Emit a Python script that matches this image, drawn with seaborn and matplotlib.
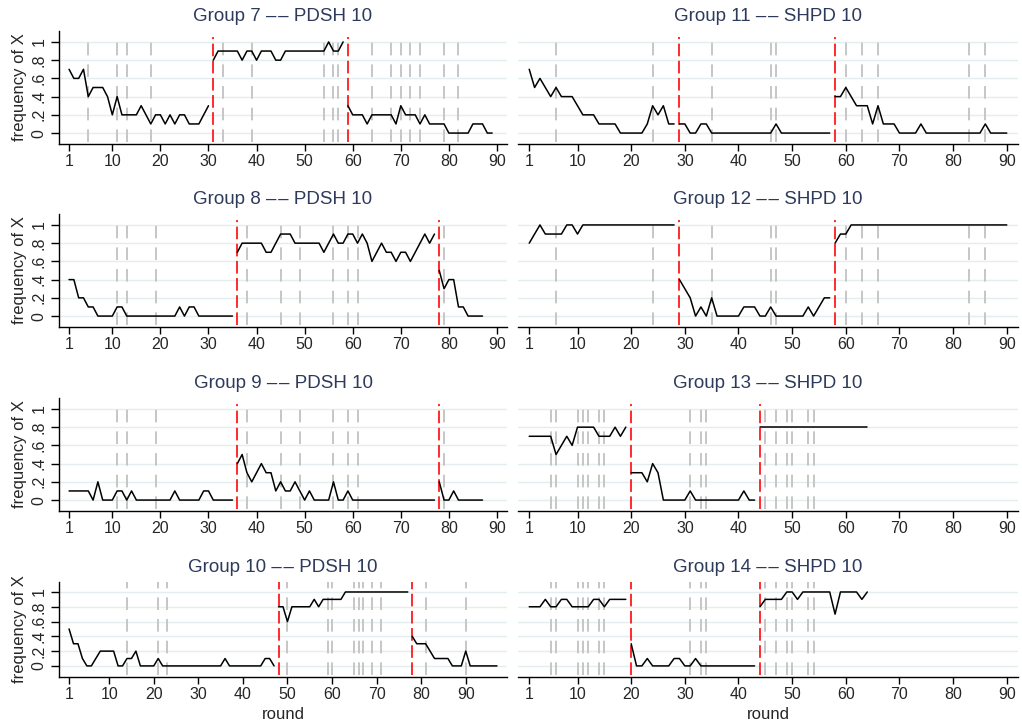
import pandas as pd
import matplotlib
matplotlib.use("Agg")
import matplotlib.pyplot as plt
import seaborn as sns

# frequency of X by round, one list per group (phases split at the switch rounds)
g7 = [.7, .6, .6, .7, .4, .5, .5, .5, .4, .2, .4, .2, .2, .2, .2, .3, .2, .1, .2, .2,
      .1, .2, .1, .2, .2, .1, .1, .1, .2, .3,
      .8, .9, .9, .9, .9, .9, .8, .9, .9, .8, .9, .9, .9, .8, .8, .9, .9, .9, .9, .9,
      .9, .9, .9, .9, 1, .9, .9, 1,
      .3, .2, .2, .2, .1, .2, .2, .2, .2, .2, .1, .3, .2, .2, .2, .1, .2, .1, .1, .1,
      .1, 0, 0, 0, 0, 0, .1, .1, .1, 0, 0]
g8 = [.4, .4, .2, .2, .1, .1, 0, 0, 0, 0, .1, .1, 0, 0, 0, 0, 0, 0, 0, 0,
      0, 0, 0, .1, 0, .1, .1, 0, 0, 0, 0, 0, 0, 0, 0,
      .7, .8, .8, .8, .8, .8, .7, .7, .8, .9, .9, .9, .8, .8, .8, .8, .8, .8, .7, .8,
      .9, .8, .8, .9, .9, .8, .9, .8, .6, .7, .8, .7, .7, .6, .7, .7, .6, .7, .8, .9,
      .8, .9,
      .5, .3, .4, .4, .1, .1, 0, 0, 0, 0]
g9 = [.1, .1, .1, .1, .1, 0, .2, 0, 0, 0, .1, .1, 0, .1, 0, 0, 0, 0, 0, 0,
      0, 0, .1, 0, 0, 0, 0, 0, .1, .1, 0, 0, 0, 0, 0,
      .4, .5, .3, .2, .3, .4, .3, .3, .1, .2, .1, .1, .2, .1, 0, .1, 0, 0, 0, 0,
      .2, 0, 0, .1, 0, 0, 0, 0, 0, 0, 0, 0, 0, 0, 0, 0, 0, 0, 0, 0, 0, 0,
      .2, 0, 0, .1, 0, 0, 0, 0, 0, 0]
g10 = [.5, .3, .3, .1, 0, 0, .1, .2, .2, .2, .2, 0, 0, .1, .1, .2, 0, 0, 0, 0,
       .1, 0, 0, 0, 0, 0, 0, 0, 0, 0, 0, 0, 0, 0, 0, .1, 0, 0, 0, 0,
       0, 0, 0, 0, .1, .1, 0,
       .8, .8, .6, .8, .8, .8, .8, .8, .9, .8, .9, .9, .9, .9, .9, 1, 1, 1, 1, 1,
       1, 1, 1, 1, 1, 1, 1, 1, 1, 1,
       .4, .3, .3, .3, .2, .1, .1, .1, .1, 0, 0, 0, .2, 0, 0, 0, 0, 0, 0, 0]
g11 = [.7, .5, .6, .5, .4, .5, .4, .4, .4, .3, .2, .2, .2, .1, .1, .1, .1, 0, 0, 0,
       0, 0, .1, .3, .2, .3, .1, .1,
       .1, .1, 0, 0, .1, .1, 0, 0, 0, 0, 0, 0, 0, 0, 0, 0, 0, 0, .1, 0,
       0, 0, 0, 0, 0, 0, 0, 0, 0,
       .4, .4, .5, .4, .3, .3, .3, .1, .3, .1, .1, .1, 0, 0, 0, 0, .1, 0, 0, 0,
       0, 0, 0, 0, 0, 0, 0, 0, .1, 0, 0, 0, 0]
g12 = [.8, .9, 1, .9, .9, .9, .9, 1, 1, .9, 1, 1, 1, 1, 1, 1, 1, 1, 1, 1,
       1, 1, 1, 1, 1, 1, 1, 1,
       .4, .3, .2, 0, .1, 0, .2, 0, 0, 0, 0, 0, .1, .1, .1, 0, 0, .1, 0, 0,
       0, 0, 0, 0, .1, 0, .1, .2, .2,
       .8, .9, .9, 1, 1, 1, 1, 1, 1, 1, 1, 1, 1, 1, 1, 1, 1, 1, 1, 1,
       1, 1, 1, 1, 1, 1, 1, 1, 1, 1, 1, 1, 1]
g13 = [.7, .7, .7, .7, .7, .5, .6, .7, .6, .8, .8, .8, .8, .7, .7, .7, .8, .7, .8,
       .3, .3, .3, .2, .4, .3, 0, 0, 0, 0, 0, .1, 0, 0, 0, 0, 0, 0, 0, 0,
       0, .1, 0, 0,
       .8, .8, .8, .8, .8, .8, .8, .8, .8, .8, .8, .8, .8, .8, .8, .8, .8, .8, .8, .8, .8]
g14 = [.8, .8, .8, .9, .8, .8, .9, .9, .8, .8, .8, .8, .9, .9, .8, .9, .9, .9, .9,
       .3, 0, 0, .1, 0, 0, 0, 0, .1, .1, 0, 0, .1, 0, 0, 0, 0, 0, 0, 0,
       0, 0, 0, 0,
       .8, .9, .9, .9, .9, 1, 1, .9, 1, 1, 1, 1, 1, 1, .7, 1, 1, 1, 1, .9, 1]

# rounds where the treatment switches (red) and other marked rounds (gray)
switch7, switch8, switch9, switch10 = [31, 59], [36, 78], [36, 78], [48, 78]
switch11, switch12, switch13, switch14 = [29, 58], [29, 58], [20, 44], [20, 44]
gray7 = [5, 11, 13, 18, 33, 39, 54, 56, 57, 64, 68, 70, 72, 74, 79, 82]
gray89 = [11, 13, 19, 38, 45, 49, 56, 59, 61, 79]
gray10 = [14, 21, 23, 50, 59, 60, 65, 66, 67, 69, 71, 81, 90]
gray1112 = [6, 24, 35, 46, 47, 60, 63, 66, 83, 86]
gray1314 = [5, 6, 10, 11, 12, 14, 15, 31, 33, 34, 45, 47, 49, 50, 53, 54]

sep = "\u2013\u200a\u2013"
titles = [f"Group 7 {sep} PDSH 10", f"Group 11 {sep} SHPD 10",
          f"Group 8 {sep} PDSH 10", f"Group 12 {sep} SHPD 10",
          f"Group 9 {sep} PDSH 10", f"Group 13 {sep} SHPD 10",
          f"Group 10 {sep} PDSH 10", f"Group 14 {sep} SHPD 10"]
series = [g7, g11, g8, g12, g9, g13, g10, g14]
switches = [switch7, switch11, switch8, switch12, switch9, switch13, switch10, switch14]
grays = [gray7, gray1112, gray89, gray1112, gray89, gray1314, gray10, gray1314]

xticks = [1, 10, 20, 30, 40, 50, 60, 70, 80, 90]
yticks = [0, .2, .4, .6, .8, 1]
ytick_labels = ["0", ".2", ".4", ".6", ".8", "1"]

sns.set_theme(style="white")
plt.rcParams["font.family"] = ["Liberation Sans", "DejaVu Sans"]

W, H = 1022, 723
fig = plt.figure(figsize=(W / 100, H / 100), dpi=100)

cols = [(59, 507), (518, 1018)]
rows = [(31, 144), (214, 327), (398, 511), (582, 677)]
title_color = "#2E3A5C"

for i, (title, vals, sw, gr) in enumerate(zip(titles, series, switches, grays)):
    r, c = divmod(i, 2)
    x0, x1 = cols[c]
    top, bot = rows[r]
    ax = fig.add_axes([x0 / W, 1 - bot / H, (x1 - x0) / W, (bot - top) / H])

    n = len(vals)
    df = pd.DataFrame({"round": range(1, n + 1), "freq": vals})
    df["phase"] = [sum(rd >= s for s in sw) for rd in df["round"]]

    ymax_line = 1.0 if r == 3 else 0.95
    for g in gr:
        ax.axvline(g, ymin=0.02, ymax=ymax_line, color="#C2C2C2", lw=1.3,
                   ls=(0, (7, 5)), zorder=1)
    for s in sw:
        ax.axvline(s, ymin=0.02, ymax=ymax_line, color="#FF1A1A", lw=1.3,
                   ls=(0, (7, 2.5)), zorder=2)

    sns.lineplot(data=df, x="round", y="freq", units="phase", estimator=None,
                 color="black", lw=1.1, legend=False, ax=ax, zorder=3)

    hi = max(90, n)
    pad = 0.0235 * (hi - 1)
    ax.set_xlim(1 - pad, hi + pad)
    ax.set_ylim((-0.15, 1.135) if r == 3 else (-0.12, 1.12))
    ax.set_xticks(xticks)
    ax.set_yticks(yticks)
    ax.yaxis.grid(True, color="#E4EDEF", lw=1.0)
    ax.xaxis.grid(False)
    ax.set_axisbelow(True)

    for side in ["top", "right"]:
        ax.spines[side].set_visible(False)
    ax.spines["bottom"].set_color("black")
    ax.spines["bottom"].set_linewidth(1.0)
    ax.tick_params(axis="x", direction="out", length=5, width=1, color="black",
                   labelsize=11.5, pad=2, bottom=True)

    if c == 0:
        ax.spines["left"].set_color("black")
        ax.spines["left"].set_linewidth(1.0)
        ax.set_yticklabels(ytick_labels, rotation=90, va="center")
        ax.tick_params(axis="y", direction="out", length=6, width=1, color="black",
                       labelsize=11.5, pad=3, left=True)
        ax.set_ylabel("frequency of X", fontsize=12, labelpad=3)
    else:
        ax.spines["left"].set_visible(False)
        ax.tick_params(axis="y", left=False, labelleft=False)
        ax.set_ylabel("")

    ax.set_xlabel("round" if r == 3 else "", fontsize=12, labelpad=4)
    ax.set_title(title, fontsize=13.5, color=title_color, pad=7)

fig.savefig("out.png", dpi=100)
plt.close(fig)
